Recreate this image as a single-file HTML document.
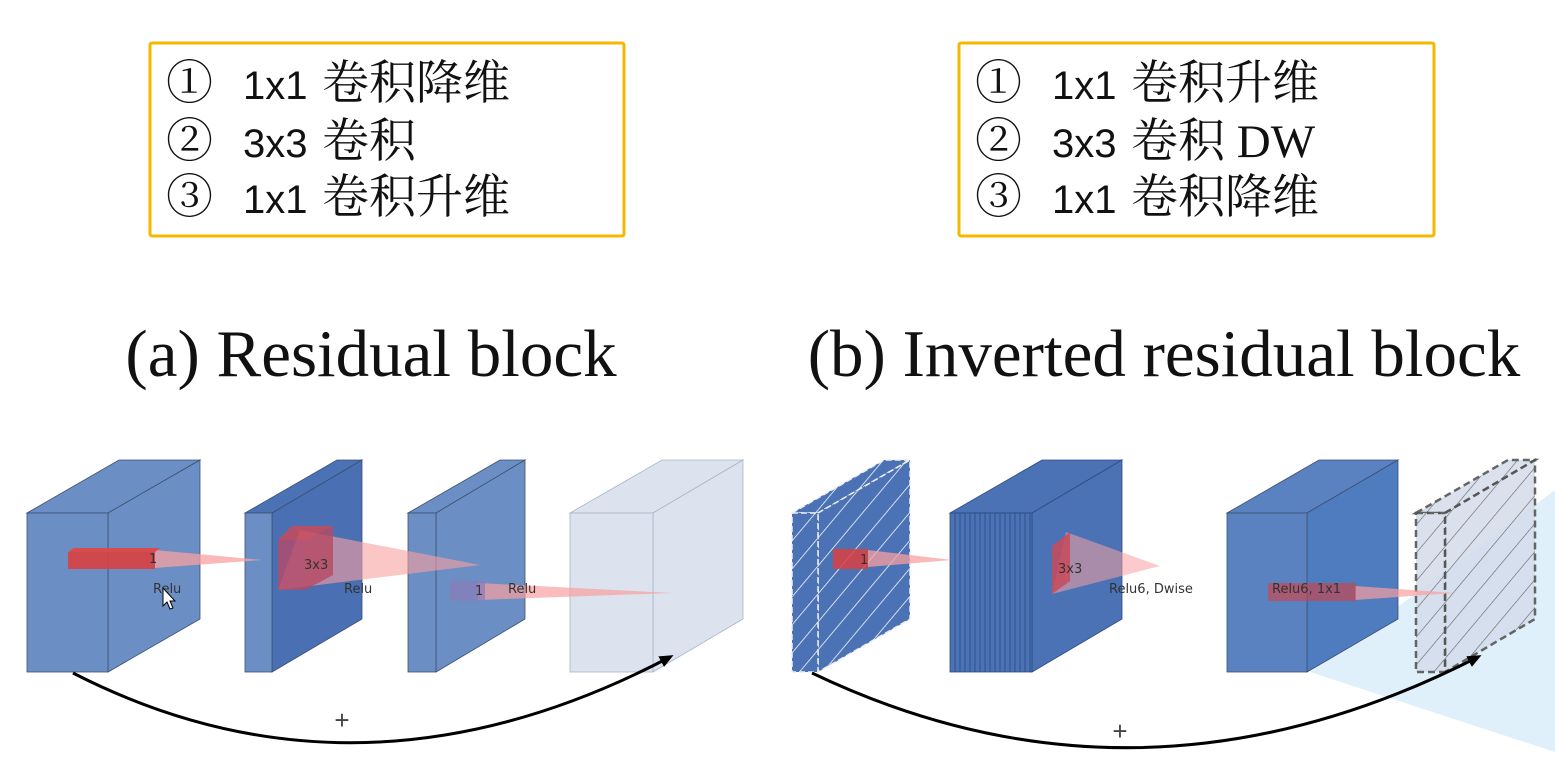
<!DOCTYPE html>
<html><head><meta charset="utf-8">
<style>
html,body{margin:0;padding:0;background:#fff;}
svg{display:block;}
.cn{font-family:"Liberation Serif","Noto Serif CJK SC","Noto Sans CJK SC",serif;font-size:47px;fill:#111;}
.num{font-family:"Liberation Sans","Noto Sans CJK SC",sans-serif;font-size:40px;fill:#111;}
.title{font-family:"Liberation Serif",serif;font-size:67px;fill:#111;}
.lab{font-family:"DejaVu Sans","Liberation Sans",sans-serif;font-size:13px;fill:#333;}
</style></head>
<body>
<svg width="1555" height="759" viewBox="0 0 1555 759">
<defs>
<pattern id="hw" patternUnits="userSpaceOnUse" width="18" height="18" patternTransform="rotate(40)">
<rect width="18" height="18" fill="#4a72b5"/><line x1="0" y1="0" x2="0" y2="18" stroke="#fff" stroke-width="1.5"/></pattern>
<pattern id="hk" patternUnits="userSpaceOnUse" width="18" height="18" patternTransform="rotate(40)">
<rect width="18" height="18" fill="#d6deec"/><line x1="0" y1="0" x2="0" y2="18" stroke="#555" stroke-width="1.2"/></pattern>
<marker id="ar" markerUnits="userSpaceOnUse" markerWidth="14" markerHeight="12" refX="10" refY="6" orient="auto"><path d="M0,0 L14,6 L0,12 z" fill="#000"/></marker>
</defs>

<g>
<rect x="150" y="43" width="474" height="193" fill="#fff" stroke="#f5b800" stroke-width="3" rx="2"/>
<text class="cn" x="166" y="99">① </text><text class="num" x="243" y="99">1x1</text><text class="cn" x="322" y="99">卷积降维</text>
<text class="cn" x="166" y="157">② </text><text class="num" x="243" y="157">3x3</text><text class="cn" x="322" y="157">卷积</text>
<text class="cn" x="166" y="213">③ </text><text class="num" x="243" y="213">1x1</text><text class="cn" x="322" y="213">卷积升维</text>
</g>
<g>
<rect x="959" y="43" width="475" height="193" fill="#fff" stroke="#f5b800" stroke-width="3" rx="2"/>
<text class="cn" x="975" y="99">① </text><text class="num" x="1052" y="99">1x1</text><text class="cn" x="1131" y="99">卷积升维</text>
<text class="cn" x="975" y="157">② </text><text class="num" x="1052" y="157">3x3</text><text class="cn" x="1131" y="157">卷积 DW</text>
<text class="cn" x="975" y="213">③ </text><text class="num" x="1052" y="213">1x1</text><text class="cn" x="1131" y="213">卷积降维</text>
</g>

<text class="title" x="371" y="376" text-anchor="middle">(a) Residual block</text>
<text class="title" x="1164" y="376" text-anchor="middle">(b) Inverted residual block</text>

<g stroke="#3d4f70" stroke-width="0.8">
<polygon points="27,513 119,460 200,460 108,513" fill="#6b8fc4"/>
<polygon points="108,513 200,460 200,619 108,672" fill="#6b8fc4"/>
<rect x="27" y="513" width="81" height="159" fill="#6b8fc4"/>
<polygon points="245,513 337,460 362,460 272,513" fill="#4a72b5"/>
<polygon points="272,513 362,460 362,619 272,672" fill="#4a6fb3"/>
<rect x="245" y="513" width="27" height="159" fill="#6b8fc4"/>
<polygon points="408,513 500,460 525,460 436,513" fill="#6b8fc4"/>
<polygon points="436,513 525,460 525,619 436,672" fill="#6b8fc4"/>
<rect x="408" y="513" width="28" height="159" fill="#6b8fc4"/>
<g stroke="#aab5c8">
<polygon points="570,513 662,460 743,460 653,513" fill="#dce3ef"/>
<polygon points="653,513 743,460 743,619 653,672" fill="#dce3ef"/>
<rect x="570" y="513" width="83" height="159" fill="#dce3ef"/>
</g>
</g>
<g stroke="none">
<polygon points="155,550 262,560 155,568" fill="#f8a0a0" opacity="0.75"/>
<polygon points="68,552 74,548 160,548 155,552" fill="#d94b4b"/>
<rect x="68" y="552" width="87" height="17" fill="#d94040" opacity="0.9"/>
<polygon points="300,530 480,565 278,590" fill="#f8a0a0" opacity="0.6"/>
<polygon points="278,540 292,526 333,526 305,540" fill="#c84a5a" opacity="0.85"/>
<rect x="278" y="540" width="27" height="50" fill="#b44a6a" opacity="0.8"/>
<polygon points="305,540 333,526 333,575 305,590" fill="#b84860" opacity="0.8"/>
<polygon points="478,583 672,593 478,600" fill="#f8a0a0" opacity="0.7"/>
<rect x="450" y="581" width="35" height="20" fill="#8a7ab8" opacity="0.7"/>
</g>
<text class="lab" x="149" y="563" font-size="10">1</text>
<text class="lab" x="304" y="569" font-size="15">3x3</text>
<text class="lab" x="153" y="593" font-size="15">Relu</text>
<text class="lab" x="344" y="593" font-size="15">Relu</text>
<text class="lab" x="508" y="593" font-size="15">Relu</text>
<text class="lab" x="475" y="595" font-size="10">1</text>
<path d="M163,588 l0,18 l4,-4 l3,7 l3,-1 l-3,-7 l5,0 z" fill="#fff" stroke="#000" stroke-width="1"/>
<path d="M73,673 Q360,820 670,657" fill="none" stroke="#000" stroke-width="3" marker-end="url(#ar)"/>
<text x="342" y="729" font-family="Liberation Sans,sans-serif" font-size="26" fill="#444" text-anchor="middle">+</text>

<polygon points="1310,672 1555,490 1555,752" fill="#dff0fb"/>
<g>
<polygon points="792,513 884,460 910,460 818,513" fill="url(#hw)" stroke="#eee" stroke-width="1.5" stroke-dasharray="6,3"/>
<polygon points="818,513 910,460 910,619 818,672" fill="url(#hw)" stroke="#eee" stroke-width="1.5" stroke-dasharray="6,3"/>
<rect x="792" y="513" width="26" height="159" fill="url(#hw)" stroke="#eee" stroke-width="1.5" stroke-dasharray="6,3"/>
<polygon points="950,513 1042,460 1122,460 1032,513" fill="#4a72b5" stroke="#2c4b80" stroke-width="0.8"/>
<polygon points="1032,513 1122,460 1122,619 1032,672" fill="#4a72b5" stroke="#2c4b80" stroke-width="0.8"/>
<rect x="950" y="513" width="82" height="159" fill="#4a72b5" stroke="#2c4b80" stroke-width="0.8"/>
<g stroke="#2c4b80" stroke-width="0.8" id="stripes"></g>
<polygon points="1227,513 1319,460 1398,460 1307,513" fill="#5a82c0" stroke="#3d4f70" stroke-width="0.8"/>
<polygon points="1307,513 1398,460 1398,619 1307,672" fill="#4f7bbf" stroke="#3d4f70" stroke-width="0.8"/>
<rect x="1227" y="513" width="80" height="159" fill="#5a82c0" stroke="#3d4f70" stroke-width="0.8"/>
<polygon points="1416,513 1508,460 1535,460 1445,513" fill="url(#hk)" stroke="#555" stroke-width="2.5" stroke-dasharray="7,4" opacity="0.9"/>
<polygon points="1445,513 1535,460 1535,619 1445,672" fill="url(#hk)" stroke="#555" stroke-width="2.5" stroke-dasharray="7,4" opacity="0.9"/>
<rect x="1416" y="513" width="29" height="159" fill="url(#hk)" stroke="#555" stroke-width="2.5" stroke-dasharray="7,4" opacity="0.9"/>
</g>
<g>
<polygon points="868,550 952,560 868,567" fill="#f8a0a0" opacity="0.75"/>
<rect x="833" y="549" width="35" height="20" fill="#d94040" opacity="0.85"/>
<polygon points="1066,532 1160,566 1052,594" fill="#f8a0a0" opacity="0.55"/>
<polygon points="1052,546 1070,532 1070,581 1052,594" fill="#c84a5a" opacity="0.85"/>
<polygon points="1355,586 1455,593 1355,600" fill="#f8a0a0" opacity="0.7"/>
<rect x="1268" y="583" width="88" height="18" fill="#d94040" opacity="0.6"/>
</g>
<text class="lab" x="860" y="564" font-size="10">1</text>
<text class="lab" x="1058" y="573" font-size="15">3x3</text>
<text class="lab" x="1109" y="593" font-size="15">Relu6, Dwise</text>
<text class="lab" x="1272" y="593" font-size="15">Relu6, 1x1</text>
<path d="M812,673 Q1140,830 1478,657" fill="none" stroke="#000" stroke-width="3" marker-end="url(#ar)"/>
<text x="1120" y="740" font-family="Liberation Sans,sans-serif" font-size="26" fill="#444" text-anchor="middle">+</text>
</svg>
<script>
var g=document.getElementById('stripes');
for(var i=0;i<16;i++){var x=955+i*5;var l=document.createElementNS('http://www.w3.org/2000/svg','line');
l.setAttribute('x1',x);l.setAttribute('y1',513);l.setAttribute('x2',x);l.setAttribute('y2',672);


g.appendChild(l);}
</script>
</body></html>
